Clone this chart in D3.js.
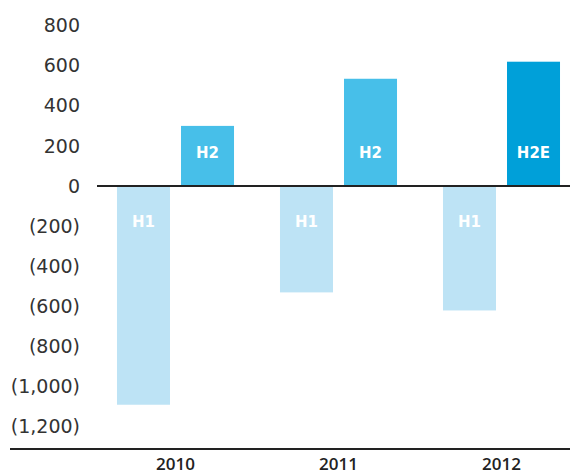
<!DOCTYPE html>
<html>
<head>
<script src="https://d3js.org/d3.v7.min.js"></script>
<style>
  body { margin: 0; background: #fff; }
  svg { display: block; font-family: "DejaVu Sans", sans-serif; }
</style>
</head>
<body>
<div id="container"></div>
<script>
// chart data
const years = ["2010", "2011", "2012"];
const halves = ["H1", "H2"];
const h1Values = [-1090, -530, -620];
const h2Values = [300, 535, 620];
const h2Labels = ["H2", "H2", "H2E"];
const yTicks = [800, 600, 400, 200, 0, -200, -400, -600, -800, -1000, -1200];

const width = 570, height = 471;

const svg = d3.select("#container").append("svg")
  .attr("width", width)
  .attr("height", height);

// scales
const x0 = d3.scaleBand().domain(years).range([94, 583])
  .paddingInner(0.282).paddingOuter(0.141);
const x1 = d3.scaleBand().domain(halves).range([0, x0.bandwidth()])
  .paddingInner(0.172).paddingOuter(0);
const y = d3.scaleLinear().domain([-1200, 800]).range([426.8, 25.6]);

const fmt = d3.format(",");
const tickFmt = d => d < 0 ? "(" + fmt(-d) + ")" : fmt(d);

// y axis labels, no line
const yAxis = svg.append("g")
  .attr("transform", "translate(80,0)")
  .call(d3.axisLeft(y).tickValues(yTicks).tickFormat(tickFmt).tickSize(0).tickPadding(0));
yAxis.select(".domain").remove();
yAxis.selectAll("text")
  .attr("fill", "#333")
  .style("font-size", "19px")
  .style("font-family", "DejaVu Sans, sans-serif");

const rows = years.map((yr, i) => ({
  year: yr,
  bars: [
    { half: "H1", value: h1Values[i], label: "H1", color: "#bde3f5" },
    { half: "H2", value: h2Values[i], label: h2Labels[i], color: i === 2 ? "#00a0d9" : "#47bfe9" }
  ]
}));

const groups = svg.selectAll("g.year")
  .data(rows)
  .join("g")
  .attr("class", "year")
  .attr("transform", d => "translate(" + x0(d.year) + ",0)");

groups.selectAll("rect")
  .data(d => d.bars)
  .join("rect")
  .attr("x", d => x1(d.half))
  .attr("width", x1.bandwidth())
  .attr("y", d => y(Math.max(0, d.value)))
  .attr("height", d => Math.abs(y(d.value) - y(0)))
  .attr("fill", d => d.color);

groups.selectAll("text")
  .data(d => d.bars)
  .join("text")
  .attr("x", d => x1(d.half) + x1.bandwidth() / 2)
  .attr("y", d => d.value < 0 ? y(0) + 36 : y(0) - 33)
  .attr("dy", "0.36em")
  .attr("text-anchor", "middle")
  .attr("fill", "#fff")
  .style("font-size", "15px")
  .style("font-weight", "bold")
  .text(d => d.label);

// zero line
svg.append("line")
  .attr("x1", 97).attr("x2", width)
  .attr("y1", y(0)).attr("y2", y(0))
  .attr("stroke", "#222").attr("stroke-width", 2);

// bottom category axis
const xAxis = svg.append("g")
  .attr("transform", "translate(0,449)")
  .call(d3.axisBottom(x0).tickSize(0).tickPadding(9));
xAxis.select(".domain")
  .attr("d", "M10,0H" + width)
  .attr("stroke", "#222").attr("stroke-width", 2);
xAxis.selectAll("text")
  .attr("fill", "#222")
  .style("font-size", "17px")
  .style("font-weight", "600")
  .style("font-family", "Open Sans, sans-serif");
</script>
</body>
</html>
